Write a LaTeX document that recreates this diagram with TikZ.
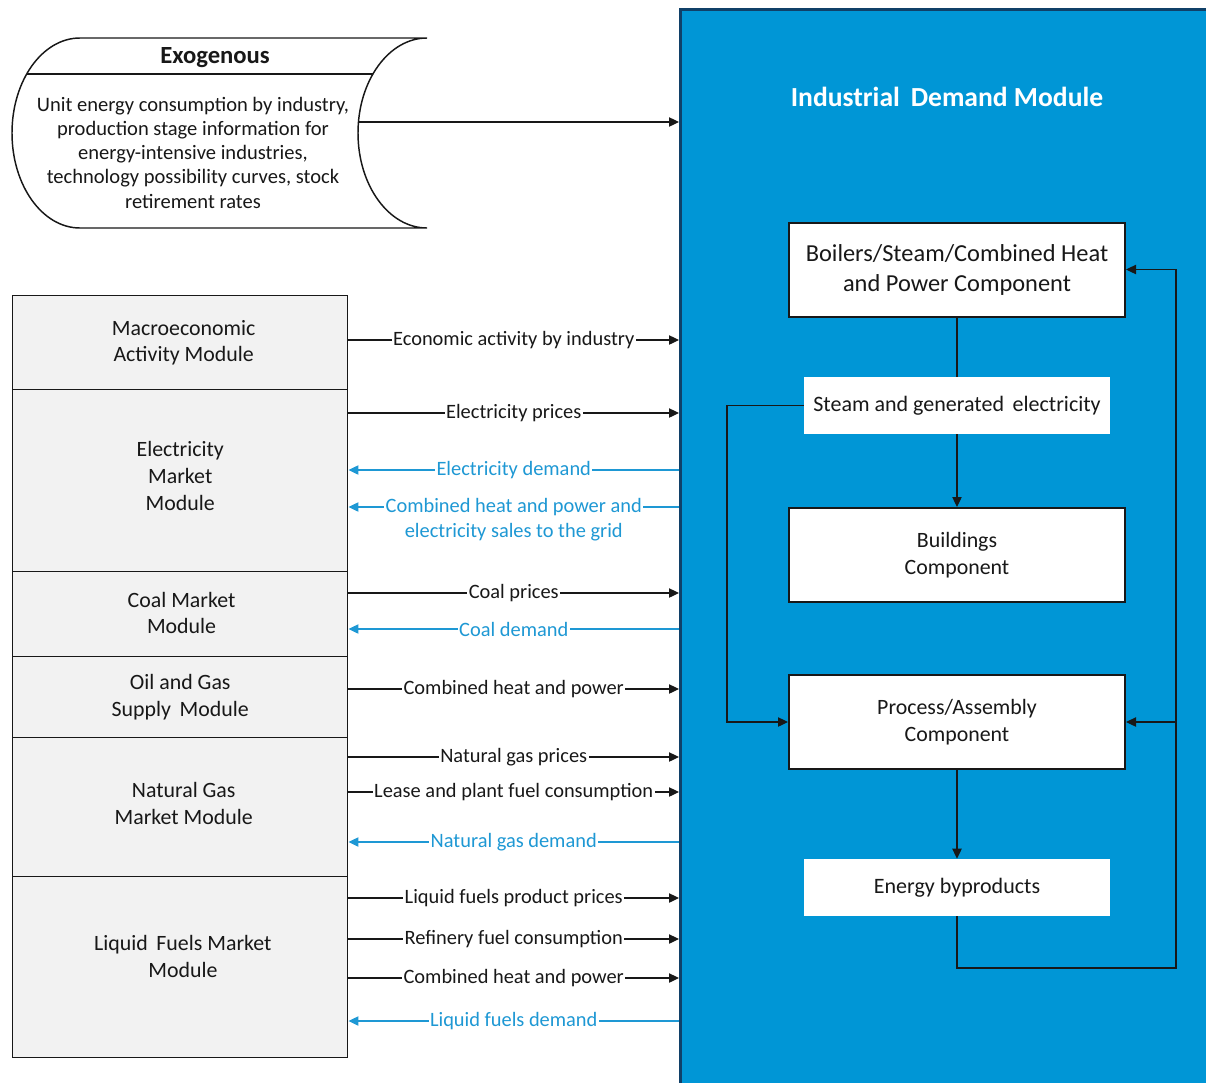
\documentclass[tikz,border=0pt]{standalone}
\usepackage{fontspec}
\setmainfont{Carlito}
\usetikzlibrary{arrows.meta,calc}
\definecolor{modblue}{RGB}{0,150,214}
\definecolor{modedge}{RGB}{16,64,104}
\definecolor{flowblue}{RGB}{30,152,212}
\definecolor{boxgray}{RGB}{242,242,242}
\definecolor{ink}{RGB}{24,24,24}
\begin{document}
\begin{tikzpicture}[x=0.75pt,y=-0.75pt,
  tip/.style={-{Triangle[length=7.5pt,width=7pt]}},
  flow/.style={draw=ink, line width=0.9pt, tip},
  bflow/.style={draw=flowblue, line width=0.9pt, -{Triangle[length=7.5pt,width=7pt]}},
  lbl/.style={fill=white, inner sep=1pt, text=ink, font=\fontsize{15.3}{18.75}\selectfont, align=center},
  blbl/.style={lbl, text=flowblue},
  leftbox/.style={draw=ink, fill=boxgray, line width=1.1pt, minimum width=251.25pt,
    inner sep=0pt, anchor=north west},
  boxtxt/.style={text=ink, align=center, font=\fontsize{16.4}{20.1}\selectfont},
  comp/.style={draw=ink, fill=white, line width=1.5pt, minimum width=252pt,
    minimum height=70.5pt, inner sep=0pt, align=center, text=ink,
    font=\fontsize{16.4}{20.25}\selectfont},
  flowbox/.style={fill=white, minimum width=229.5pt, minimum height=42.75pt,
    inner sep=0pt, text=ink, font=\fontsize{16.5}{20}\selectfont},
  inner/.style={draw=ink, line width=0.9pt}]
\useasboundingbox (0,0) rectangle (1206,1082);

% Industrial demand module (runs off the right and bottom edges)
\node[draw=modedge, fill=modblue, line width=2.25pt, anchor=north west,
  minimum width=405pt, minimum height=817.5pt, inner sep=0pt] (idm) at (679,8) {};
\node[text=white, font=\fontsize{20.7}{24}\selectfont\bfseries] (idmtitle) at (947,97)
  {Industrial\, Demand Module};

% Exogenous inputs (stored-data shape)
\draw[draw=ink, line width=1.1pt, fill=white]
  (80,38) -- (427,38)
  .. controls (388.9,38) and (358,80.5) .. (358,133)
  .. controls (358,185.5) and (388.9,228) .. (427,228)
  -- (80,228)
  .. controls (42.4,228) and (12,185.5) .. (12,133)
  .. controls (12,80.5) and (42.4,38) .. (80,38) -- cycle;
\draw[draw=ink, line width=1pt] (27,74) -- (373,74);
\node[text=ink, font=\fontsize{18.5}{22}\selectfont\bfseries] (exotitle) at (215,58) {Exogenous};
\node[text=ink, align=center, font=\fontsize{15.4}{18.2}\selectfont] (exobody) at (193,152.5)
  {Unit energy consumption by industry,\\production stage information for\\energy-intensive industries,\\technology possibility curves, stock\\retirement rates};
\coordinate (exoR) at (359,122);
\draw[flow] (exoR) -- (idm.west |- exoR);

% Supplying modules
\node[leftbox, minimum height=70.5pt,
  label={[boxtxt, xshift=2.6pt]center:{Macroeconomic\\Activity Module}}] (macro) at (12,295) {};
\node[leftbox, minimum height=136.5pt,
  label={[boxtxt, yshift=3.4pt]center:{Electricity\\Market\\Module}}] (elec) at (12,389) {};
\node[leftbox, minimum height=63.75pt,
  label={[boxtxt, xshift=1pt, yshift=1pt]center:{Coal Market\\Module}}] (coal) at (12,571) {};
\node[leftbox, minimum height=60.75pt,
  label={[boxtxt]center:{Oil and Gas\\Supply\, Module}}] (oilgas) at (12,656) {};
\node[leftbox, minimum height=104.25pt,
  label={[boxtxt, xshift=2.6pt, yshift=2.6pt]center:{Natural Gas\\Market Module}}] (natgas) at (12,737) {};
\node[leftbox, minimum height=135.75pt,
  label={[boxtxt, xshift=2pt, yshift=7.9pt]center:{Liquid\, Fuels Market\\Module}}] (liquid) at (12,876) {};

% Flows into the industrial demand module
\draw[flow] (macro.east |- 0,340) -- node[lbl] (l1) {Economic activity by industry} (idm.west |- 0,340);
\draw[flow] (elec.east |- 0,413) -- node[lbl] (l2) {Electricity prices} (idm.west |- 0,413);
\draw[bflow] (idm.west |- 0,470) -- node[blbl] (l3) {Electricity demand} (elec.east |- 0,470);
\draw[bflow] (idm.west |- 0,507) -- node[blbl, yshift=-9.4pt] (l4)
  {Combined heat and power and\\electricity sales to the grid} (elec.east |- 0,507);
\draw[flow] (coal.east |- 0,593) -- node[lbl] (l5) {Coal prices} (idm.west |- 0,593);
\draw[bflow] (idm.west |- 0,629) -- node[blbl] (l6) {Coal demand} (coal.east |- 0,629);
\draw[flow] (oilgas.east |- 0,689) -- node[lbl] (l7) {Combined heat and power} (idm.west |- 0,689);
\draw[flow] (natgas.east |- 0,757) -- node[lbl] (l8) {Natural gas prices} (idm.west |- 0,757);
\draw[flow] (natgas.east |- 0,792) -- node[lbl] (l9) {Lease and plant fuel consumption} (idm.west |- 0,792);
\draw[bflow] (idm.west |- 0,842) -- node[blbl] (l10) {Natural gas demand} (natgas.east |- 0,842);
\draw[flow] (liquid.east |- 0,898) -- node[lbl] (l11) {Liquid fuels product prices} (idm.west |- 0,898);
\draw[flow] (liquid.east |- 0,939) -- node[lbl] (l12) {Refinery fuel consumption} (idm.west |- 0,939);
\draw[flow] (liquid.east |- 0,978) -- node[lbl] (l13) {Combined heat and power} (idm.west |- 0,978);
\draw[bflow] (idm.west |- 0,1021) -- node[blbl] (l14) {Liquid fuels demand} (liquid.east |- 0,1021);

% Components inside the module
\node[comp, font=\fontsize{18.3}{22.5}\selectfont] (boil) at (957,269.5)
  {Boilers/Steam/Combined Heat\\and Power Component};
\node[flowbox] (steam) at (957,405.5) {Steam and generated\, electricity};
\node[comp] (bldg) at (957,555) {Buildings\\Component};
\node[comp] (proc) at (957,722) {Process/Assembly\\Component};
\node[flowbox] (byp) at (957,887.5) {Energy byproducts};
\coordinate (rail) at (1176,968);

\draw[inner] (boil) -- (steam);
\draw[inner, tip] (steam) -- (bldg);
\draw[inner, tip] (steam.west) -- (steam.west -| 727,0) |- (proc.west);
\draw[inner, tip] (proc) -- (byp);
\draw[inner, tip] (byp.south) |- (rail) |- (boil.east);
\draw[inner, tip] (proc.east -| rail) -- (proc.east);
\end{tikzpicture}
\end{document}
